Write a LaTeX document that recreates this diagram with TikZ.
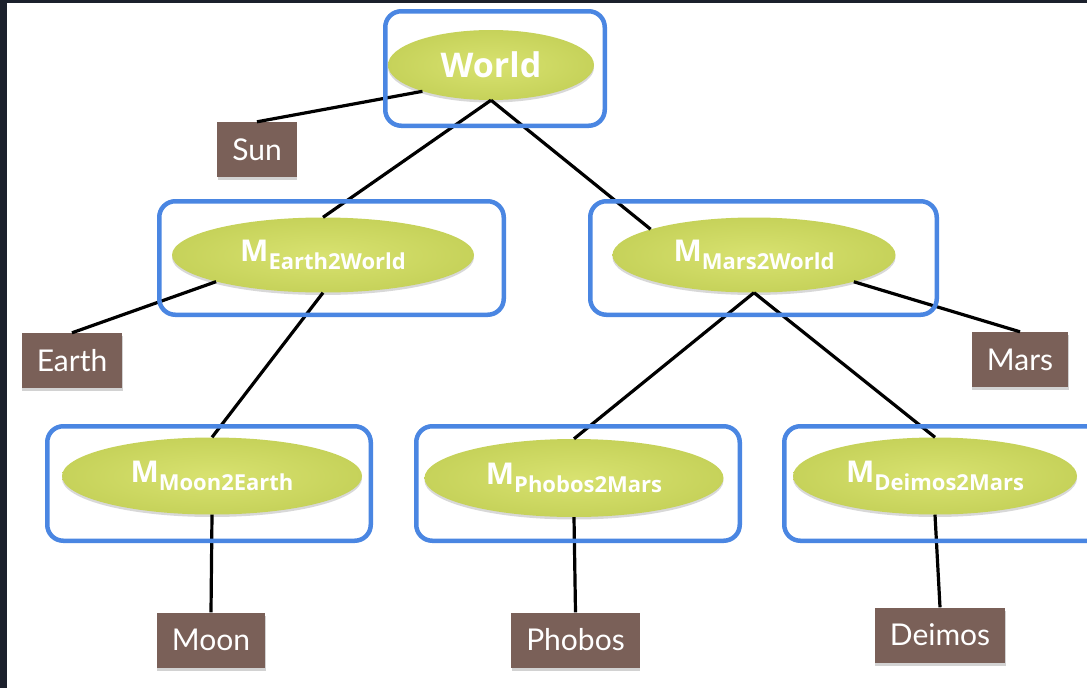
\documentclass[tikz,border=0pt]{standalone}
\usepackage{fontspec}
\setmainfont{Lato}
\newfontfamily\xnodefont{Open Sans}
\usepackage{tikz}
\usetikzlibrary{shapes,shadows,positioning}

\definecolor{leafbrown}{RGB}{122,96,88}
\definecolor{nodegreen}{RGB}{216,226,112}
\definecolor{nodegreendark}{RGB}{198,210,90}
\definecolor{selblue}{RGB}{74,134,226}
\definecolor{slidedark}{RGB}{27,32,44}

\newcommand{\xform}[1]{{\fontsize{30}{30}\selectfont M}\raisebox{-8pt}{\fontsize{22}{22}\selectfont #1}}

\begin{document}
\begin{tikzpicture}[
    x=1pt, y=-1pt,
    xnode/.style={ellipse, inner sep=0pt, shading=radial, inner color=nodegreen, outer color=nodegreendark, text=white, font=\xnodefont\bfseries, drop shadow={opacity=0.3, shadow xshift=0pt, shadow yshift=-2.5pt}},
    leaf/.style={rectangle, fill=leafbrown, text=white, inner xsep=15pt, minimum height=55pt, font=\fontsize{30}{30}\selectfont, drop shadow={opacity=0.35, shadow xshift=0.5pt, shadow yshift=-3pt}},
    selbox/.style={rectangle, draw=selblue, line width=4.5pt, rounded corners=16pt, minimum height=114.5pt},
    link/.style={line width=3.2pt, draw=black}
]
    \clip (0,0) rectangle (1087,688);
    \fill [white] (0,0) rectangle (1087,688);
    \fill [slidedark] (0,0) rectangle (7,688);
    \fill [slidedark] (0,0) rectangle (1087,3);

    \node [xnode, minimum width=206pt, minimum height=70pt, font=\xnodefont\bfseries\fontsize{34}{34}\selectfont] (world) at (491,65) {World};
    \node [xnode, minimum width=302pt, minimum height=75pt] (earth2world) at (323,255) {\xform{Earth2World}};
    \node [xnode, minimum width=283pt, minimum height=75pt] (mars2world) at (754,255) {\xform{Mars2World}};
    \node [xnode, minimum width=300pt, minimum height=77pt] (moon2earth) at (212,476) {\xform{Moon2Earth}};
    \node [xnode, minimum width=299pt, minimum height=78pt] (phobos2mars) at (574,478) {\xform{Phobos2Mars}};
    \node [xnode, minimum width=284pt, minimum height=77pt] (deimos2mars) at (935,476) {\xform{Deimos2Mars}};

    \node [leaf] (sun) at (257,149.5) {Sun};
    \node [leaf] (earth) at (72,360.5) {Earth};
    \node [leaf] (mars) at (1020,359.5) {Mars};
    \node [leaf] (moon) at (211,640) {Moon};
    \node [leaf] (phobos) at (575.5,640) {Phobos};
    \node [leaf] (deimos) at (940,635) {Deimos};

    \draw [link] (world.201) -- (sun.north);
    \draw [link] (world.south) -- (earth2world.north);
    \draw [link] (world.south) -- (mars2world.166);
    \draw [link] (earth2world.194) -- (earth.north);
    \draw [link] (earth2world.south) -- (moon2earth.north);
    \draw [link] (mars2world.345) -- (mars.north);
    \draw [link] (mars2world.south) -- (phobos2mars.north);
    \draw [link] (mars2world.south) -- (deimos2mars.north);
    \draw [link] (moon2earth.south) -- (moon.north);
    \draw [link] (phobos2mars.south) -- (phobos.north);
    \draw [link] (deimos2mars.south) -- (deimos.north);

    \node [selbox, minimum width=219.5pt] (worldsel) at (495,68.5) {};
    \node [selbox, minimum width=344.5pt, minimum height=113.5pt] (earth2worldsel) at (331.5,258) {};
    \node [selbox, minimum width=346.5pt, minimum height=113.5pt] (mars2worldsel) at (763.5,258) {};
    \node [selbox, minimum width=323.5pt] (moon2earthsel) at (209,483.5) {};
    \node [selbox, minimum width=323.5pt] (phobos2marssel) at (578,483.5) {};
    \node [selbox, minimum width=323.5pt] (deimos2marssel) at (946,483.5) {};
\end{tikzpicture}
\end{document}
